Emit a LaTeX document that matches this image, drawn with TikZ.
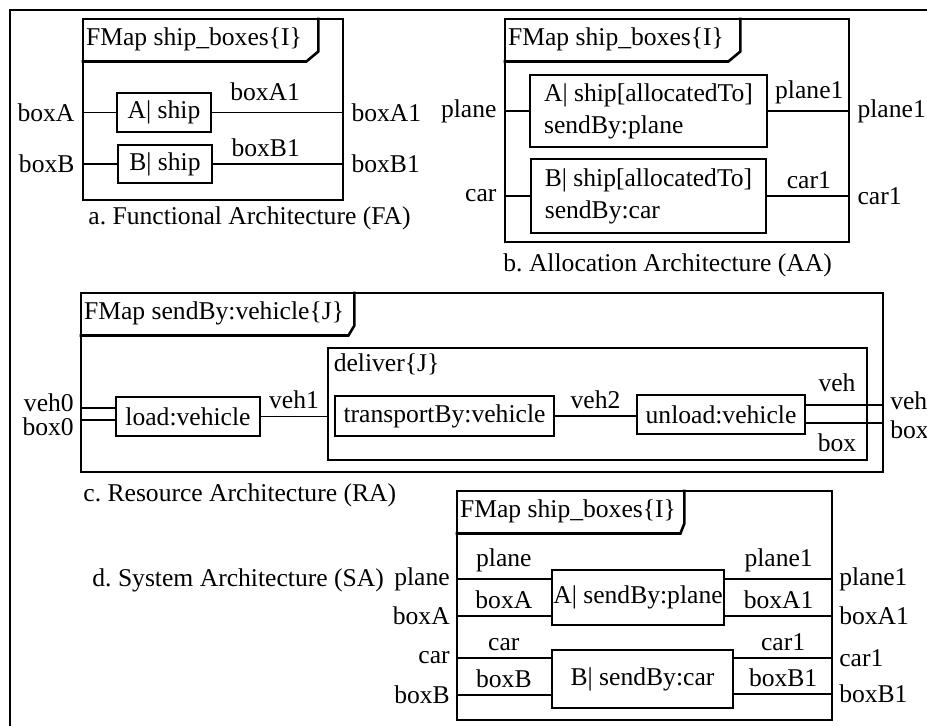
\documentclass[tikz,border=0pt]{standalone}
\usepackage{fontspec}
\setmainfont{Liberation Serif}
\usepackage{tikz}
\usetikzlibrary{fit}
\tikzset{
  frame/.style={draw, line width=1.3pt, inner sep=0pt},
  part/.style={draw, line width=1.3pt, inner sep=0pt, align=center},
  tabtext/.style={anchor=north west, inner xsep=2pt, inner ysep=0pt, minimum height=21.5pt},
  caption/.style={anchor=west, inner sep=0pt}
}
\tikzstyle{wire} = [line width=0.6pt]
\tikzstyle{tabline} = [line width=1.3pt]

\begin{document}
\begin{tikzpicture}[x=0.5pt,y=-0.5pt,font=\fontsize{12.8}{16}\selectfont\frenchspacing]
    \useasboundingbox (0,0) rectangle (927,726);
    \draw [line width=1.1pt] (10,760) -- (10,10) -- (960,10);

    % a. functional architecture
    \node [frame, fit={(83,19) (343,200)}] (fa) {};
    \node [tabtext] (faT) at (fa.north west) {FMap ship\_boxes\{I\}};
    \draw [tabline] ([xshift=6pt]faT.north east) -- ([xshift=6pt,yshift=5pt]faT.south east) -- (faT.south east) -- (faT.south west);
    \node [part, minimum width=47pt, minimum height=19.5pt] (faA) at (164,112.5) {A| ship};
    \node [part, minimum width=47pt, minimum height=19pt] (faB) at (165,164) {B| ship};
    \draw [wire] (fa.west |- faA) node[left] (faAin) {boxA} -- (faA);
    \draw [wire] (fa.west |- faB) node[left] (faBin) {boxB} -- (faB);
    \draw [wire] (faA) -- node[above, pos=0.4, yshift=2pt] (faAl) {boxA1} (fa.east |- faA) node[right] (faAout) {boxA1};
    \draw [wire] (faB) -- node[above, pos=0.4] (faBl) {boxB1} (fa.east |- faB) node[right] (faBout) {boxB1};
    \node [caption] (capa) at (88,218) {a. Functional Architecture (FA)};

    % b. allocation architecture
    \node [frame, fit={(505,19) (849,242)}] (aa) {};
    \node [tabtext] (aaT) at (aa.north west) {FMap ship\_boxes\{I\}};
    \draw [tabline] ([xshift=6pt]aaT.north east) -- ([xshift=6pt,yshift=5pt]aaT.south east) -- (aaT.south east) -- (aaT.south west);
    \node [part, align=left, minimum width=118.5pt, minimum height=36pt] (aaA) at (648.5,111) {A| ship[allocatedTo]\\sendBy:plane};
    \node [part, align=left, minimum width=117.5pt, minimum height=37pt] (aaB) at (648.5,196) {B| ship[allocatedTo]\\sendBy:car};
    \draw [wire] (aa.west |- aaA) node[left] (aaAin) {plane} -- (aaA);
    \draw [wire] (aa.west |- aaB) node[left] (aaBin) {car} -- (aaB);
    \draw [wire] (aaA) -- node[above] (aaAl) {plane1} (aa.east |- aaA) node[right] (aaAout) {plane1};
    \draw [wire] (aaB) -- node[above] (aaBl) {car1} (aa.east |- aaB) node[right] (aaBout) {car1};
    \node [caption] (capb) at (503,265) {b. Allocation Architecture (AA)};

    % c. resource architecture
    \node [frame, fit={(81,293) (883,472)}] (ra) {};
    \node [tabtext] (raT) at (ra.north west) {FMap sendBy:vehicle\{J\}};
    \draw [tabline] ([xshift=3pt]raT.north east) -- ([xshift=3pt,yshift=5pt]raT.south east) -- (raT.south east) -- (raT.south west);
    \node [frame, fit={(328,348) (867,460)}] (dl) {};
    \node [anchor=north west] (dlT) at (dl.north west) {deliver\{J\}};
    \node [part, minimum width=72pt, minimum height=19.5pt] (ld) at (188,416.5) {load:vehicle};
    \node [part, minimum width=109.5pt, minimum height=20pt] (tb) at (444.5,416) {transportBy:vehicle};
    \node [part, minimum width=84pt, minimum height=19.5pt] (ul) at (721,414.5) {unload:vehicle};
    \coordinate (raV0) at (81,408);
    \coordinate (raB0) at (81,420);
    \coordinate (raV) at (883,405);
    \coordinate (raB) at (883,423);
    \draw [wire] (raV0) node[left, inner ysep=0pt, yshift=2.5pt] (v0) {veh0} -- (raV0 -| ld.west);
    \draw [wire] (raB0) node[left, inner ysep=0pt, yshift=-3.5pt] (b0) {box0} -- (raB0 -| ld.west);
    \draw [wire] (ld) -- node[above] (v1) {veh1} (ld -| dl.west);
    \draw [wire] (tb) -- node[above] (v2) {veh2} (tb -| ul.west);
    \draw [wire] (raV -| ul.east) -- node[above, pos=0.4, yshift=3pt] (vl) {veh} (raV) node[right, inner ysep=0pt, yshift=2pt] (vout) {veh};
    \draw [wire] (raB -| ul.east) -- node[below, pos=0.4, yshift=-1.5pt] (bl) {box} (raB) node[right, inner ysep=0pt, yshift=-3.5pt] (bout) {box};
    \node [caption] (capc) at (83,495) {c. Resource Architecture (RA)};

    % d. system architecture
    \node [frame, fit={(457,491) (832,720)}] (sa) {};
    \node [tabtext] (saT) at (sa.north west) {FMap ship\_boxes\{I\}};
    \draw [tabline] ([xshift=2pt]saT.north east) -- ([xshift=2pt,yshift=5pt]saT.south east) -- (saT.south east) -- (saT.south west);
    \node [part, minimum width=86pt, minimum height=27.5pt] (saA) at (638,597.5) {A| sendBy:plane};
    \node [part, minimum width=90.5pt, minimum height=29pt] (saB) at (642.5,679) {B| sendBy:car};
    \coordinate (saP) at (457,579);
    \coordinate (saBA) at (457,616);
    \coordinate (saC) at (457,658);
    \coordinate (saBB) at (457,695);
    \coordinate (saP1) at (832,579);
    \coordinate (saA1) at (832,616);
    \coordinate (saC1) at (832,658);
    \coordinate (saB1) at (832,694);
    \draw [wire] (saP) node[left] (saPin) {plane} -- node[above] (saPl) {plane} (saP -| saA.west);
    \draw [wire] (saBA) node[left] (saBAin) {boxA} -- node[above] (saBAl) {boxA} (saBA -| saA.west);
    \draw [wire] (saC) node[left] (saCin) {car} -- node[above] (saCl) {car} (saC -| saB.west);
    \draw [wire] (saBB) node[left] (saBBin) {boxB} -- node[above] (saBBl) {boxB} (saBB -| saB.west);
    \draw [wire] (saP1 -| saA.east) -- node[above] (saP1l) {plane1} (saP1) node[right] (saP1out) {plane1};
    \draw [wire] (saA1 -| saA.east) -- node[above] (saA1l) {boxA1} (saA1) node[right] (saA1out) {boxA1};
    \draw [wire] (saC1 -| saB.east) -- node[above] (saC1l) {car1} (saC1) node[right] (saC1out) {car1};
    \draw [wire] (saB1 -| saB.east) -- node[above] (saB1l) {boxB1} (saB1) node[right] (saB1out) {boxB1};
    \node [caption] (capd) at (92,580) {d. System Architecture (SA)};
\end{tikzpicture}
\end{document}
